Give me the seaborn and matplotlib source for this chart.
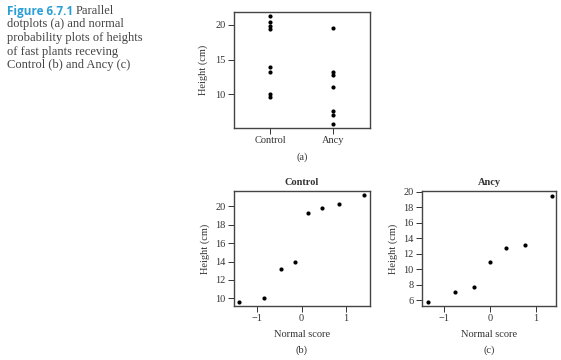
import numpy as np
import pandas as pd
import seaborn as sns
import matplotlib.pyplot as plt

# heights of fast plants (cm)
groups = ['Control', 'Ancy']
control_height = [9.6, 10.0, 13.2, 13.9, 19.3, 19.8, 20.3, 21.2]
control_score = [-1.42, -0.85, -0.47, -0.15, 0.15, 0.47, 0.85, 1.42]
ancy_height = [5.8, 7.1, 7.7, 11.0, 12.8, 13.2, 19.5]
ancy_score = [-1.35, -0.76, -0.35, 0.0, 0.35, 0.76, 1.35]

sns.set_style('ticks')
plt.rcParams['font.family'] = ['Liberation Serif', 'DejaVu Serif']
plt.rcParams['text.color'] = '#333333'
plt.rcParams['axes.labelcolor'] = '#333333'
plt.rcParams['xtick.color'] = '#333333'
plt.rcParams['ytick.color'] = '#333333'
plt.rcParams['axes.edgecolor'] = '#444444'
plt.rcParams['axes.linewidth'] = 1.0

df = pd.DataFrame({
    'group': ['Control'] * len(control_height) + ['Ancy'] * len(ancy_height),
    'height': control_height + ancy_height,
})

fig = plt.figure(figsize=(5.61, 3.6), dpi=100)
W, H = 561, 360


def box(l, t, r, b):
    # pixel box -> figure fraction
    return [l / W, 1 - b / H, (r - l) / W, (b - t) / H]


def style(ax):
    ax.tick_params(direction='out', length=4, width=0.7, labelsize=7.5, pad=2)
    for s in ax.spines.values():
        s.set_visible(True)
        s.set_color('#444444')


# (a) parallel dotplots
ax_a = fig.add_axes(box(234, 12, 370, 128))
sns.stripplot(data=df, x='group', y='height', order=groups, jitter=False,
              color='black', size=3.0, linewidth=0, ax=ax_a)
ax_a.set_xlim(-0.57, 1.58)
ax_a.set_ylim(5.2, 21.8)
ax_a.set_yticks([10, 15, 20])
ax_a.set_ylabel('Height (cm)', fontsize=7.5, labelpad=5)
ax_a.set_xlabel('(a)', fontsize=7.5, labelpad=5)
style(ax_a)

# (b) normal probability plot, Control
ax_b = fig.add_axes(box(234, 191, 370, 306))
sns.scatterplot(x=control_score, y=control_height, color='black', s=9,
                linewidth=0, ax=ax_b)
ax_b.set_xlim(-1.53, 1.55)
ax_b.set_ylim(9.17, 21.66)
ax_b.set_xticks([-1, 0, 1])
ax_b.set_xticklabels(['\u22121', '0', '1'])
ax_b.set_yticks(np.arange(10, 21, 2))
ax_b.set_title('Control', fontsize=7.5, fontweight='bold', pad=4)
ax_b.set_ylabel('Height (cm)', fontsize=7.5, labelpad=4)
ax_b.set_xlabel('Normal score', fontsize=7.5, labelpad=5)
ax_b.text(0.5, -0.38, '(b)', transform=ax_b.transAxes, ha='center', va='center', fontsize=7.5)
style(ax_b)

# (c) normal probability plot, Ancy
ax_c = fig.add_axes(box(422, 191, 556, 306))
sns.scatterplot(x=ancy_score, y=ancy_height, color='black', s=9,
                linewidth=0, ax=ax_c)
ax_c.set_xlim(-1.49, 1.44)
ax_c.set_ylim(5.27, 20.1)
ax_c.set_xticks([-1, 0, 1])
ax_c.set_xticklabels(['\u22121', '0', '1'])
ax_c.set_yticks(np.arange(6, 21, 2))
ax_c.set_title('Ancy', fontsize=7.5, fontweight='bold', pad=4)
ax_c.set_ylabel('Height (cm)', fontsize=7.5, labelpad=4)
ax_c.set_xlabel('Normal score', fontsize=7.5, labelpad=5)
ax_c.text(0.5, -0.38, '(c)', transform=ax_c.transAxes, ha='center', va='center', fontsize=7.5)
style(ax_c)

# caption
fig.text(7 / W, 1 - 11 / H, 'Figure 6.7.1', fontsize=8.5, fontweight='bold',
         family=['Open Sans', 'DejaVu Sans'], color='#2a9fd6', va='center')
fig.text(76 / W, 1 - 11 / H, 'Parallel', fontsize=9, color='#444444', va='center')
caption = ['dotplots (a) and normal', 'probability plots of heights',
           'of fast plants receving', 'Control (b) and Ancy (c)']
for i, line in enumerate(caption):
    fig.text(7 / W, 1 - (11 + 13.5 * (i + 1)) / H, line, fontsize=9,
             color='#444444', va='center')

fig.savefig('out.png', dpi=100)
